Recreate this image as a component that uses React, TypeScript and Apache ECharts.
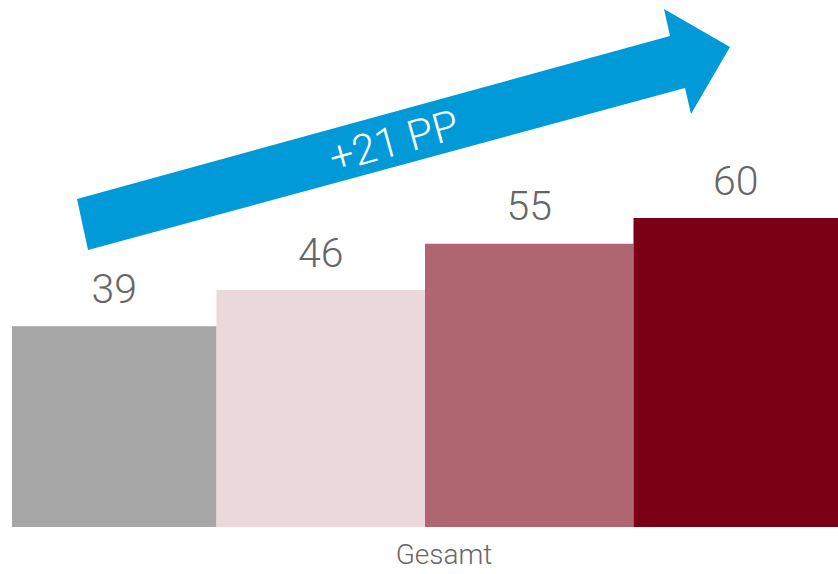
import React, { useEffect, useRef } from "react";
import * as echarts from "echarts";

// Anteil je Gruppe (Prozent), eine Kategorie "Gesamt"
const categories = ["Gesamt"];
const seriesNames = ["A", "B", "C", "D"];
const values = [39, 46, 55, 60];
const barColors = ["#a6a6a6", "#ebd8da", "#b06670", "#7b0016"];
const changeLabel = "+21 PP";

const FONT = "Roboto, 'Noto Sans', sans-serif";

export default function App() {
  const ref = useRef<HTMLDivElement>(null);

  useEffect(() => {
    if (!ref.current) return;
    const chart = echarts.init(ref.current, null, { renderer: "svg" });

    const series = values.map((v, i) => ({
      name: seriesNames[i],
      type: "bar",
      data: [v],
      barWidth: 208.5,
      barGap: "0%",
      barCategoryGap: "0%",
      itemStyle: { color: barColors[i] },
      label: {
        show: true,
        position: "top",
        distance: 17,
        color: "#666666",
        fontFamily: FONT,
        fontWeight: 300,
        fontSize: 41,
      },
    }));

    chart.setOption({
      animation: false,
      grid: { left: 12, width: 834, top: 12, height: 515 },
      xAxis: {
        type: "category",
        data: categories,
        axisLine: { show: false },
        axisTick: { show: false },
        axisLabel: {
          color: "#666666",
          fontFamily: FONT,
          fontWeight: 300,
          fontSize: 28,
          margin: 13,
          padding: [0, 0, 0, 38],
        },
      },
      yAxis: {
        type: "value",
        min: 0,
        max: 100,
        show: false,
        splitLine: { show: false },
      },
      series,
      graphic: [
        {
          type: "polygon",
          shape: {
            points: [
              [77, 199],
              [670, 36],
              [664, 9],
              [730, 47],
              [691, 114],
              [685, 88],
              [88, 250],
            ],
          },
          style: { fill: "#009ad8" },
          z: 10,
        },
        {
          type: "text",
          x: 394,
          y: 141,
          rotation: 0.269,
          style: {
            text: changeLabel,
            fill: "#ffffff",
            font: `300 42px ${FONT}`,
            align: "center",
            verticalAlign: "middle",
          },
          z: 11,
        },
      ],
    });

    return () => chart.dispose();
  }, []);

  return (
    <div
      ref={ref}
      style={{ position: "fixed", left: 0, top: 0, width: 838, height: 574, background: "#ffffff" }}
    />
  );
}
